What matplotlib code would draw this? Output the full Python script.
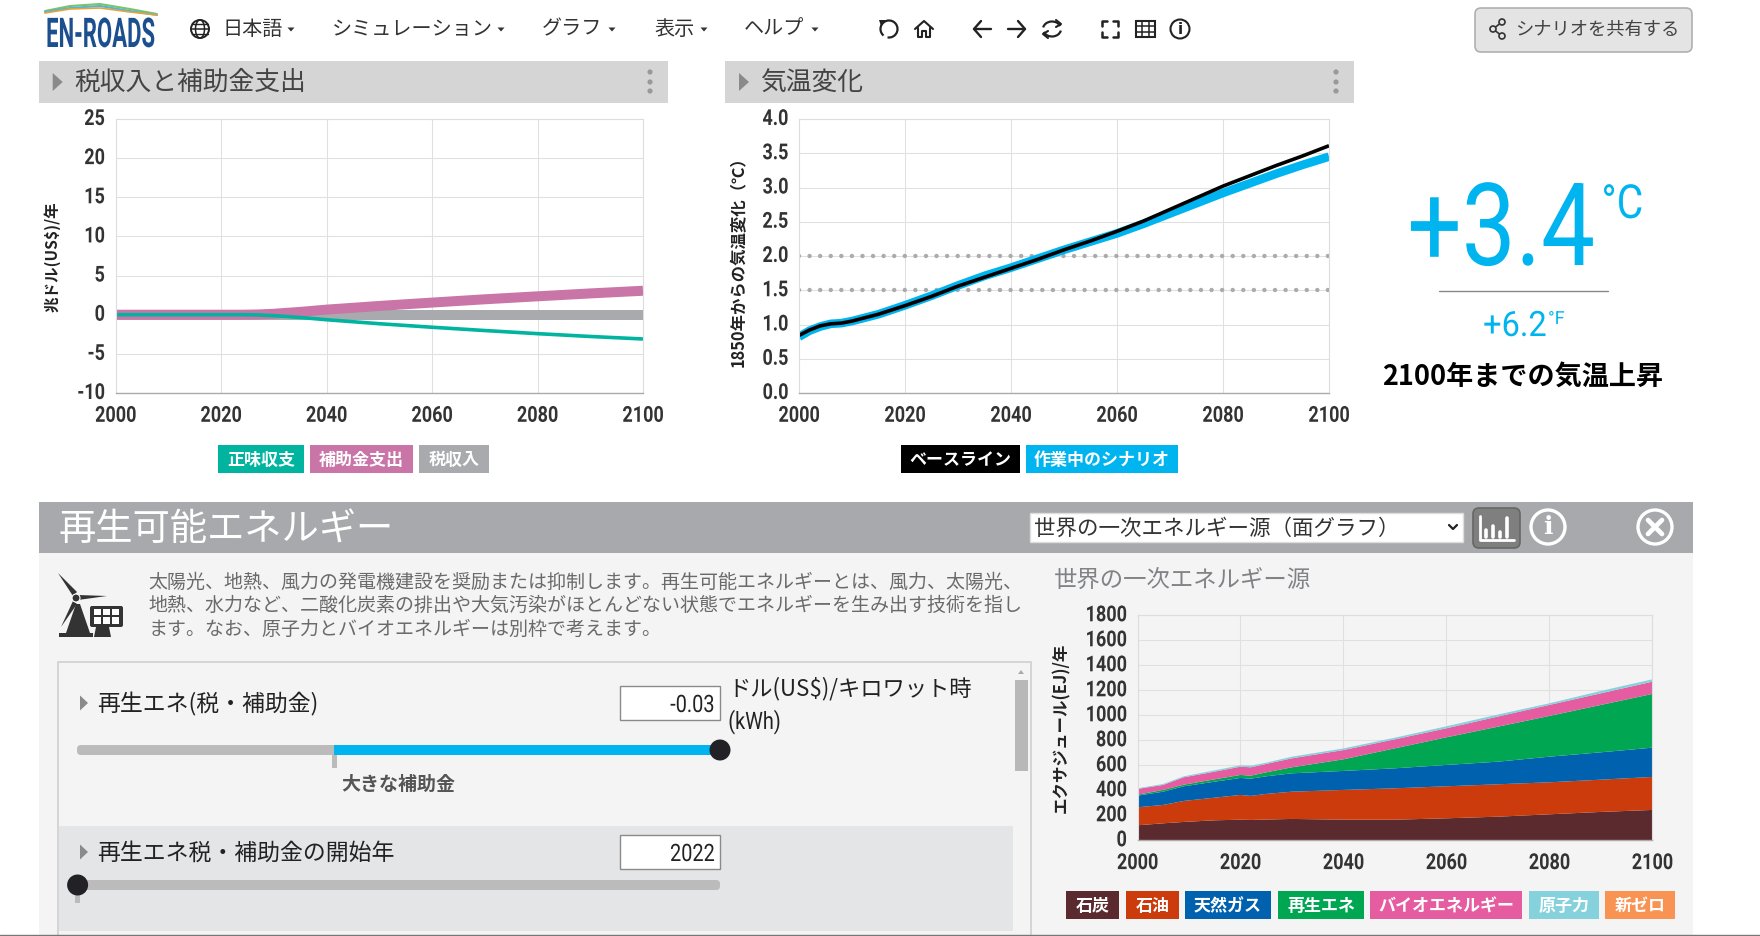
import numpy as np
import matplotlib
matplotlib.use("Agg")
import matplotlib.pyplot as plt
import matplotlib.patheffects as pe
from matplotlib.patches import Rectangle, Circle, FancyBboxPatch, Polygon, Arc
from matplotlib.transforms import Affine2D

W, H = 1760, 936
JP = ['Noto Sans CJK JP', 'DejaVu Sans']
NARROW = ['Roboto', 'DejaVu Sans']
plt.rcParams['font.family'] = JP

# ---------- data ----------
x_ticks = [2000, 2020, 2040, 2060, 2080, 2100]
tax_years = [2000, 2024, 2027, 2030, 2035, 2040, 2050, 2060, 2070, 2080, 2090, 2100]
net_balance = [0, 0, -0.03, -0.12, -0.35, -0.64, -1.15, -1.6, -2.02, -2.42, -2.78, -3.1]
subsidies = [0, 0, 0.03, 0.12, 0.36, 0.65, 1.12, 1.55, 1.97, 2.35, 2.72, 3.06]
tax_revenue = [0, 0, 0, 0, 0, 0, 0, 0, 0, 0, 0, 0]
tax_ticks = [-10, -5, 0, 5, 10, 15, 20, 25]

temp_years = [2000, 2002, 2004, 2006, 2008, 2010, 2012, 2015, 2020, 2025, 2030, 2035, 2040, 2045,
              2050, 2055, 2060, 2065, 2070, 2075, 2080, 2085, 2090, 2095, 2100]
baseline = [0.84, 0.92, 0.98, 1.01, 1.02, 1.05, 1.09, 1.15, 1.275, 1.41, 1.56, 1.69, 1.82, 1.95,
            2.09, 2.22, 2.36, 2.51, 2.68, 2.85, 3.02, 3.17, 3.32, 3.46, 3.61]
scenario = [0.82, 0.91, 0.97, 1.01, 1.02, 1.05, 1.09, 1.15, 1.28, 1.42, 1.57, 1.71, 1.83, 1.96,
            2.09, 2.21, 2.33, 2.47, 2.62, 2.77, 2.92, 3.06, 3.2, 3.33, 3.45]
temp_ticks = [0.0, 0.5, 1.0, 1.5, 2.0, 2.5, 3.0, 3.5, 4.0]
temp_limits = [1.5, 2.0]

energy_years = [2000, 2005, 2009, 2015, 2020, 2022, 2025, 2030, 2040, 2050, 2060, 2070, 2080, 2090, 2100]
coal = [120, 136, 147, 160, 165, 163, 166, 171, 165, 165, 176, 189, 208, 227, 243]
oil = [144, 147, 168, 181, 198, 192, 205, 218, 238, 251, 256, 259, 256, 258, 264]
gas = [93, 106, 117, 128, 136, 138, 141, 147, 152, 160, 171, 181, 205, 219, 234]
renewables = [8, 14, 13, 19, 24, 24, 32, 48, 93, 160, 221, 280, 326, 379, 430]
bioenergy = [46, 40, 59, 61, 66, 67, 67, 72, 74, 72, 72, 81, 88, 93, 98]
nuclear = [5, 8, 8, 11, 11, 13, 10, 13, 13, 13, 16, 16, 13, 19, 19]
new_zero = [0, 0, 0, 0, 0, 0, 0, 0, 0, 0, 0, 0, 0, 0, 0]
energy_ticks = [0, 200, 400, 600, 800, 1000, 1200, 1400, 1600, 1800]
energy_names = ['石炭', '石油', '天然ガス', '再生エネ', 'バイオエネルギー', '原子力', '新ゼロ']
energy_colors = ['#5A2A2F', '#CB3B0B', '#0062AE', '#00A651', '#E55CA0', '#85D2DD', '#F89353']

TEAL, PINK, GRAY = '#00B4A0', '#C975A7', '#A9AAAD'
BLUE = '#00B5EF'

fig = plt.figure(figsize=(W / 100, H / 100), dpi=100, facecolor='white')
ui = fig.add_axes([0, 0, 1, 1], zorder=0)
ui.set_xlim(0, W)
ui.set_ylim(H, 0)
ui.axis('off')


class HStretch(pe.AbstractPathEffect):
    """Condense real text horizontally around an anchor (0 left, 0.5 centre, 1 right)."""

    def __init__(self, sx, anchor=0.0):
        super().__init__()
        self.sx = sx
        self.anchor = anchor

    def draw_path(self, renderer, gc, tpath, affine, rgbFace=None):
        e = tpath.get_extents()
        a = e.x0 + self.anchor * e.width
        t = Affine2D().translate(-a, 0).scale(self.sx, 1).translate(a, 0)
        renderer.draw_path(gc, tpath, t + affine, rgbFace)


def T(x, y, s, px, color='#333333', ha='left', va='center', weight='normal', family=None, rot=0, **kw):
    if family is None and va == 'center':
        if rot:
            x += 0.1 * px
        else:
            y += 0.13 * px
    return ui.text(x, y, s, fontsize=px * 0.72, color=color, ha=ha, va=va, fontweight=weight,
                   family=family or JP, rotation=rot, **kw)


def N(x, y, s, px, sx, color, ha='left', anchor=0.0, va='baseline', z=4, weight='normal'):
    """Condensed Latin text."""
    return ui.text(x, y, s, fontsize=px * 0.72, color=color, ha=ha, va=va, family=NARROW, fontweight=weight,
                   zorder=z, path_effects=[HStretch(sx, anchor)])


def rect(x0, y0, x1, y1, color, z=1, **kw):
    ui.add_patch(Rectangle((x0, y0), x1 - x0, y1 - y0, facecolor=color, edgecolor=kw.pop('ec', 'none'),
                           linewidth=kw.pop('lw', 0), zorder=z, **kw))


def stroke(xs, ys, color='#333333', lw=1.5, z=3):
    ui.plot(xs, ys, color=color, lw=lw, zorder=z, solid_capstyle='round', solid_joinstyle='round')


def chip(x0, x1, y0, y1, label, color, px=17):
    rect(x0, y0, x1, y1, color)
    T((x0 + x1) / 2, (y0 + y1) / 2 - 1, label, px, color='white', ha='center', weight='bold', zorder=4)


def tri(x, y, w, h, color='#8A8A8A'):
    ui.add_patch(Polygon([(x, y - h / 2), (x + w, y), (x, y + h / 2)], closed=True, facecolor=color,
                         edgecolor='none', zorder=3))


# ---------- nav ----------
lx = np.array([45, 70, 100, 130, 157])
stroke(lx, [11, 6, 4, 9, 14], '#7CC36B', 1.5)
stroke(lx, [12, 8, 6, 11, 15], '#4FB6D9', 1.5)
stroke(lx, [13, 9, 8, 12, 15], '#E6A33C', 1.2)
N(100.5, 47, 'EN-ROADS', 41, 0.54, '#1B4F8E', ha='center', anchor=0.5, weight='bold')

ui.add_patch(Circle((200, 29), 9, fill=False, ec='#222222', lw=1.4, zorder=3))
ui.add_patch(Arc((200, 29), 9, 18, fill=False, ec='#222222', lw=1.1, zorder=3))
stroke([191, 209], [29, 29], '#222222', 1.1)
stroke([192.5, 207.5], [24, 24], '#222222', 1.0)
stroke([192.5, 207.5], [34, 34], '#222222', 1.0)

nav_items = [('日本語', 222, 291), ('シミュレーション', 332, 501), ('グラフ', 541.5, 612), ('表示', 654, 704), ('ヘルプ', 743.5, 815)]
for s, x, cx in nav_items:
    T(x, 26.5, s, 20.1, color='#333333')
    ui.add_patch(Polygon([(cx - 3.5, 27.5), (cx + 3.5, 27.5), (cx, 31.5)], closed=True, facecolor='#333333',
                         edgecolor='none', zorder=3))

# toolbar icons
ui.add_patch(Arc((889, 29), 17, 17, theta1=-230, theta2=100, fill=False, ec='#222222', lw=1.6, zorder=3))
ui.add_patch(Polygon([(879, 20), (886, 20), (881, 26)], closed=True, facecolor='#222222', zorder=3))
stroke([915, 924, 933], [29, 21, 29], '#222222', 1.5)
stroke([918, 918, 922, 922, 926, 926, 930, 930], [28, 37, 37, 31, 31, 37, 37, 28], '#222222', 1.5)
stroke([991, 974], [29, 29], '#222222', 1.7)
stroke([981, 974, 981], [21, 29, 37], '#222222', 1.7)
stroke([1008, 1025], [29, 29], '#222222', 1.7)
stroke([1018, 1025, 1018], [21, 29, 37], '#222222', 1.7)
ui.add_patch(Arc((1052, 29), 18, 15, theta1=190, theta2=340, fill=False, ec='#222222', lw=1.6, zorder=3))
ui.add_patch(Arc((1052, 29), 18, 15, theta1=10, theta2=160, fill=False, ec='#222222', lw=1.6, zorder=3))
stroke([1056, 1061, 1056], [20, 24, 27], '#222222', 1.5)
stroke([1048, 1043, 1048], [38, 34, 31], '#222222', 1.5)
for sx, sy in [(-1, -1), (1, -1), (-1, 1), (1, 1)]:
    cx, cy = 1110 + sx * 8, 29 + sy * 8
    stroke([cx - sx * 5, cx, cx], [cy, cy, cy - sy * 5], '#222222', 1.8)
rect(1136, 21, 1155, 37, 'none', ec='#222222', lw=1.5, z=3)
for gx in [1142.3, 1148.7]:
    stroke([gx, gx], [21, 37], '#222222', 1.1)
for gy in [26.3, 31.7]:
    stroke([1136, 1155], [gy, gy], '#222222', 1.1)
ui.add_patch(Circle((1180, 29), 9.5, fill=False, ec='#222222', lw=1.5, zorder=3))
ui.text(1180, 29, 'i', fontsize=15 * 0.72, color='#222222', ha='center', va='center', fontweight='bold',
        family=['DejaVu Sans'], zorder=4)

ui.add_patch(FancyBboxPatch((1475, 8), 217, 44, boxstyle='round,pad=0,rounding_size=6', facecolor='#E4E4E4',
                            edgecolor='#B0B0B0', lw=1.2, zorder=1))
stroke([1502, 1493, 1502], [22, 29, 36], '#333333', 1.2)
for c in [(1502, 22), (1493, 29), (1502, 36)]:
    ui.add_patch(Circle(c, 3, facecolor='#E4E4E4', ec='#333333', lw=1.2, zorder=4))
T(1515, 27, 'シナリオを共有する', 18.3, color='#444444')

# ---------- chart headers ----------
for x0, x1, s, sx in [(38.7, 668, '税収入と補助金支出', 74), (725, 1354, '気温変化', 760)]:
    rect(x0, 61, x1, 103, '#D5D5D5')
    tri(x0 + 14, 82, 10, 18)
    T(sx, 79, s, 25.8, color='#444444')
    for dy in (72, 82, 91):
        ui.add_patch(Circle((x1 - 18, dy), 2.6, facecolor='#999999', zorder=3))


def axes_px(l, t, r, b, face='white'):
    ax = fig.add_axes([l / W, 1 - b / H, (r - l) / W, (b - t) / H], zorder=2, facecolor=face)
    for k, sp in ax.spines.items():
        sp.set_color('#DDDDDD')
        sp.set_linewidth(0.8)
    ax.spines['bottom'].set_color('#ABABAB')
    ax.spines['bottom'].set_linewidth(1.0)
    ax.grid(True, color='#E0E0E0', lw=0.75)
    ax.set_axisbelow(True)
    ax.set_xlim(2000, 2100)
    ax.set_xticks(x_ticks)
    ax.tick_params(axis='x', length=0, pad=8.5, labelcolor='#333333')
    ax.tick_params(axis='y', length=0, pad=7.6, labelcolor='#333333')
    for lab in ax.get_xticklabels():
        lab.set(family=NARROW, fontsize=22 * 0.72, fontweight='bold', path_effects=[HStretch(0.82, 0.5)])
    return ax


def yfmt(ax, ticks, labels):
    ax.set_yticks(ticks)
    ax.set_yticklabels(labels, family=NARROW, fontsize=22 * 0.72, fontweight='bold', va='center')
    for lab in ax.get_yticklabels():
        lab.set_path_effects([HStretch(0.82, 1.0)])


# chart 1
ax1 = axes_px(115.6, 119, 643, 393)
ax1.set_ylim(-10, 25)
yfmt(ax1, tax_ticks, [str(v) for v in tax_ticks])
ax1.plot(tax_years, tax_revenue, color=GRAY, lw=7.2, solid_capstyle='butt')
ax1.plot(tax_years, subsidies, color=PINK, lw=7.2, solid_capstyle='butt')
ax1.plot(tax_years, net_balance, color=TEAL, lw=2.6, solid_capstyle='butt')
T(50.5, 257, '兆ドル(US$)/年', 15.5, color='#222222', ha='center', rot=90, weight='bold')
chip(218, 304, 445, 473, '正味収支', TEAL)
chip(310, 413, 445, 473, '補助金支出', PINK)
chip(419, 489, 445, 473, '税収入', GRAY)

# chart 2
ax2 = axes_px(799, 119, 1329, 393)
ax2.set_ylim(0, 4)
yfmt(ax2, temp_ticks, [f'{v:.1f}' for v in temp_ticks])
for lim in temp_limits:
    ax2.plot([2000, 2100], [lim, lim], color='#ABABAB', lw=3.2, linestyle=(0, (0.01, 2.37)),
             dash_capstyle='round')
ax2.plot(temp_years, scenario, color=BLUE, lw=6.2, solid_capstyle='butt')
ax2.plot(temp_years, baseline, color='black', lw=2.6, solid_capstyle='butt')
T(737, 258, '1850年からの気温変化（℃）', 16.4, color='#222222', ha='center', rot=90, weight='bold')
chip(901, 1020, 445, 473, 'ベースライン', '#000000')
chip(1026, 1178, 445, 473, '作業中のシナリオ', BLUE)

# temperature read-out
N(1595.5, 265, '+3.4', 115, 0.835, BLUE, ha='right', anchor=1.0)
N(1601, 218, '°C', 47, 0.87, BLUE)
stroke([1439, 1608], [291, 291], '#888888', 1.0)
N(1483, 336, '+6.2', 35, 0.93, BLUE)
N(1548, 324, '°F', 18, 1.0, BLUE)
T(1523, 373, '2100年までの気温上昇', 27.1, color='#000000', ha='center', weight='bold')

# ---------- lower panel ----------
rect(39, 553, 1693, 936, '#F4F4F4')
rect(39, 502, 1693, 553, '#A7A9AC')
T(58, 525, '再生可能エネルギー', 37.3, color='white')

rect(1030, 513, 1463, 542, 'white', ec='#DDDDDD', lw=1, z=2)
T(1034, 526, '世界の一次エネルギー源（面グラフ）', 21.5, color='#333333', zorder=3)
stroke([1449, 1453, 1457], [525, 529, 525], '#222222', 1.6)
ui.add_patch(FancyBboxPatch((1473, 508), 47, 40, boxstyle='round,pad=0,rounding_size=6', facecolor='#7F7F7F',
                            edgecolor='#666666', lw=1.2, zorder=2))
stroke([1480, 1480, 1514], [516, 540, 540], 'white', 2.0)
for bx, bt in [(1486, 530), (1493, 526), (1500, 532), (1507, 518)]:
    stroke([bx, bx], [537, bt], 'white', 2.6)
for cx in (1548, 1655):
    ui.add_patch(Circle((cx, 527), 17, fill=False, ec='white', lw=2.4, zorder=3))
ui.text(1548, 527, 'i', fontsize=25 * 0.72, color='white', ha='center', va='center', fontweight='bold',
        family=['DejaVu Serif'], zorder=4)
stroke([1648, 1662], [520, 534], 'white', 3.4)
stroke([1648, 1662], [534, 520], 'white', 3.4)

# turbine icon
IC = '#333333'
for pts in [[(58, 573), (77, 592), (73, 596)], [(78, 595), (107, 596), (78, 600)], [(73, 601), (77, 604), (61, 627)],
            [(76, 604), (80, 604), (90, 633), (66, 633)], [(59, 633), (93, 633), (93, 637), (59, 637)],
            [(96, 627), (109, 627), (111, 637), (94, 637)]]:
    ui.add_patch(Polygon(pts, closed=True, facecolor=IC, edgecolor='none', zorder=3))
ui.add_patch(Circle((76, 598), 4, facecolor=IC, ec='white', lw=0.8, zorder=4))
ui.add_patch(FancyBboxPatch((90, 606), 33, 21, boxstyle='round,pad=0,rounding_size=2', facecolor=IC, ec='none', zorder=3))
for i in range(3):
    for j in range(2):
        rect(93.5 + i * 9, 608.5 + j * 8.5, 100.5 + i * 9, 615 + j * 8.5, 'white', z=4)

desc = ['太陽光、地熱、風力の発電機建設を奨励または抑制します。再生可能エネルギーとは、風力、太陽光、',
        '地熱、水力など、二酸化炭素の排出や大気汚染がほとんどない状態でエネルギーを生み出す技術を指し',
        'ます。なお、原子力とバイオエネルギーは別枠で考えます。']
for s, y in zip(desc, (579.5, 602.5, 626.5)):
    T(148.5, y, s, 19.0, color='#6A6A6A')

# slider box
rect(58, 662, 1031, 940, '#F4F4F4', ec='#CFCFCF', lw=1.2, z=1)
rect(59, 826, 1013, 931, '#E4E5E7', z=2)
rect(1015, 680, 1028, 771, '#B8B8B8', z=2)
ui.add_patch(Polygon([(1018, 674), (1024, 674), (1021, 670)], closed=True, facecolor='#AAAAAA', zorder=3))

for y, s in [(703, '再生エネ(税・補助金)'), (852, '再生エネ税・補助金の開始年')]:
    tri(80, y, 8, 15, '#8A8A8A')
    T(97, y - 2, s, 22.9, color='#222222', zorder=4)
for y0, s in [(686, '-0.03'), (835, '2022')]:
    rect(620, y0, 719.5, y0 + 34, 'white', ec='#8A8A8A', lw=1, z=3)
    N(715, y0 + 26, s, 24, 0.83, '#222222', ha='right', anchor=1.0)
T(728, 685.5, 'ドル(US$)/キロワット時', 22.3, color='#222222', zorder=4)
N(728, 729, '(kWh)', 24, 0.83, '#222222')


def track(x0, x1, y, color, z=3):
    ui.add_patch(FancyBboxPatch((x0, y), x1 - x0, 10, boxstyle='round,pad=0,rounding_size=4', facecolor=color,
                                edgecolor='none', zorder=z))


track(77, 720, 745, '#BBBBBB')
rect(334, 745, 720, 755, BLUE, z=4)
rect(331.5, 755, 336.5, 768, '#BBBBBB', z=3)
ui.add_patch(Circle((720, 750), 10.5, facecolor='#222226', zorder=5))
T(398, 782, '大きな補助金', 19, color='#555555', ha='center', weight='bold', zorder=4)
track(77, 720, 880, '#BBBBBB')
rect(75, 890, 80, 903, '#BBBBBB', z=3)
ui.add_patch(Circle((77.6, 885), 10.5, facecolor='#222226', zorder=5))

# chart 3
T(1054, 577, '世界の一次エネルギー源', 23.4, color='#808285')
ax3 = axes_px(1137.5, 615.3, 1652.4, 840.3, face='#F4F4F4')
ax3.set_ylim(0, 1800)
yfmt(ax3, energy_ticks, [str(v) for v in energy_ticks])
ax3.stackplot(energy_years, coal, oil, gas, renewables, bioenergy, nuclear, new_zero,
              colors=energy_colors, linewidth=0)
T(1060, 728, 'エクサジュール(EJ)/年', 16.5, color='#222222', ha='center', rot=90, weight='bold')
chip_x = [(1066, 1119), (1126, 1179), (1185, 1271), (1278, 1364), (1370, 1522), (1529, 1599), (1605, 1675)]
for (a, b), n, c in zip(chip_x, energy_names, energy_colors):
    chip(a, b, 891, 919, n, c)

stroke([0, W], [935, 935], '#777777', 1.0, z=6)

fig.savefig('out.png', dpi=100, facecolor='white')
